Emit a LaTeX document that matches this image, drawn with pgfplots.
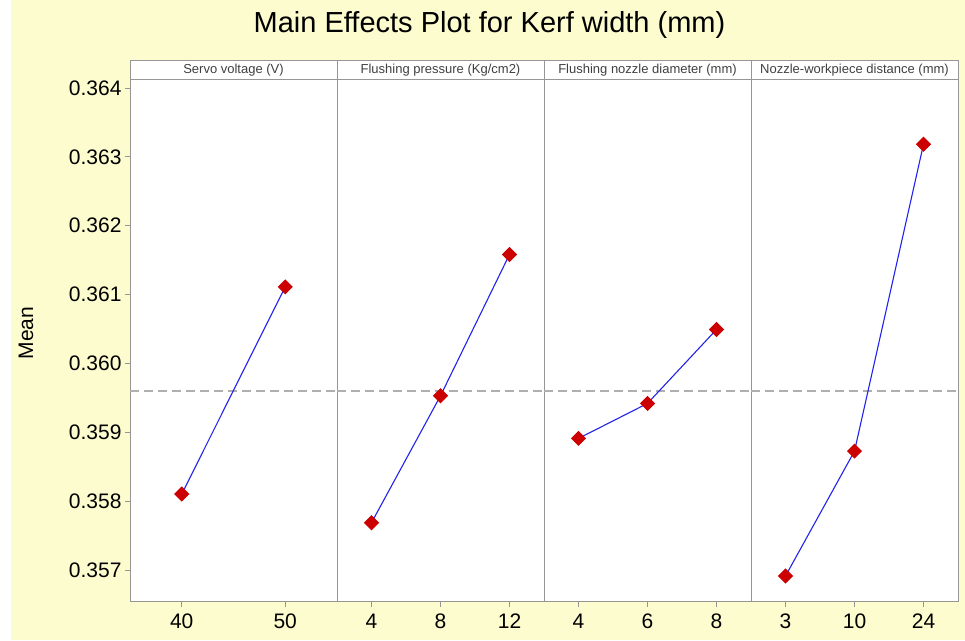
\documentclass[border=0pt]{standalone}
\usepackage{fontspec}
\setmainfont{Liberation Sans}
\usepackage{pgfplots}
\pgfplotsset{compat=1.18}

\definecolor{bgyellow}{RGB}{253,252,206}
\definecolor{framegray}{RGB}{150,150,150}
\definecolor{meangray}{RGB}{175,175,175}
\definecolor{ptred}{RGB}{204,0,0}
\definecolor{lineblue}{RGB}{35,35,235}

\newcommand{\tickfont}{\fontsize{21}{24}\selectfont}
\newcommand{\stripfont}{\fontsize{13}{14}\selectfont}

\pgfplotsset{
  mepanel/.style={
    scale only axis, width=207pt, height=522.7pt,
    anchor=south west,
    ymin=0.35654, ymax=0.36413,
    xmin=0.5,
    axis line style={framegray, line width=0.8pt},
    axis background/.style={fill=white},
    tick align=outside, xtick pos=bottom, ytick pos=left,
    major tick length=5pt,
    tick style={framegray, line width=0.7pt},
    xticklabel style={font=\tickfont, yshift=-4pt},
    yticklabel style={font=\tickfont},
    scaled y ticks=false,
    clip=false,
  },
  meanline/.style={meangray, line width=1.5pt, dash pattern=on 9pt off 5pt, forget plot},
  effect/.style={lineblue, line width=1.1pt, mark=square*, mark size=4.8pt,
    mark options={ptred, fill=ptred, rotate=45, solid}},
}

% strip above a panel
\newcommand{\strip}[1]{%
  \draw[framegray, line width=0.8pt, fill=white] (rel axis cs:0,1) rectangle ([yshift=18.3pt]rel axis cs:1,1);
  \node[font=\stripfont, text=black!75] at ([yshift=9.15pt]rel axis cs:0.5,1) {#1};
}

\begin{document}
\begin{tikzpicture}
\useasboundingbox (0,0) rectangle (965pt,640pt);
\fill[white] (0,0) rectangle (965pt,640pt);
\fill[bgyellow] (11pt,0) rectangle (965pt,640pt);

\node[font=\fontsize{29}{32}\selectfont, anchor=base] at (489.5pt,607pt) {Main Effects Plot for Kerf width (mm)};
\node[font=\fontsize{21}{24}\selectfont, rotate=90, anchor=base] at (33pt,307pt) {Mean};

% Servo voltage
\begin{axis}[mepanel, at={(130pt,38.3pt)}, xmax=2.5,
  xtick={1,2}, xticklabels={40,50},
  ytick={0.357,0.358,0.359,0.360,0.361,0.362,0.363,0.364},
  yticklabel style={/pgf/number format/.cd, fixed, fixed zerofill, precision=3, assume math mode=true}]
\addplot[meanline] coordinates {(0.5,0.3596) (2.5,0.3596)};
\addplot[effect] coordinates {(1,0.358103) (2,0.361112)};
\strip{Servo voltage (V)}
\end{axis}

% Flushing pressure
\begin{axis}[mepanel, at={(337pt,38.3pt)}, xmax=3.5,
  xtick={1,2,3}, xticklabels={4,8,12}, ytick=\empty]
\addplot[meanline] coordinates {(0.5,0.3596) (3.5,0.3596)};
\addplot[effect] coordinates {(1,0.357687) (2,0.359530) (3,0.361582)};
\strip{Flushing pressure (Kg/cm2)}
\end{axis}

% Flushing nozzle diameter
\begin{axis}[mepanel, at={(544pt,38.3pt)}, xmax=3.5,
  xtick={1,2,3}, xticklabels={4,6,8}, ytick=\empty]
\addplot[meanline] coordinates {(0.5,0.3596) (3.5,0.3596)};
\addplot[effect] coordinates {(1,0.358911) (2,0.359419) (3,0.360493)};
\strip{Flushing nozzle diameter (mm)}
\end{axis}

% Nozzle-workpiece distance
\begin{axis}[mepanel, at={(751pt,38.3pt)}, xmax=3.5,
  xtick={1,2,3}, xticklabels={3,10,24}, ytick=\empty]
\addplot[meanline] coordinates {(0.5,0.3596) (3.5,0.3596)};
\addplot[effect] coordinates {(1,0.356913) (2,0.358727) (3,0.363183)};
\strip{Nozzle-workpiece distance (mm)}
\end{axis}
\end{tikzpicture}
\end{document}
